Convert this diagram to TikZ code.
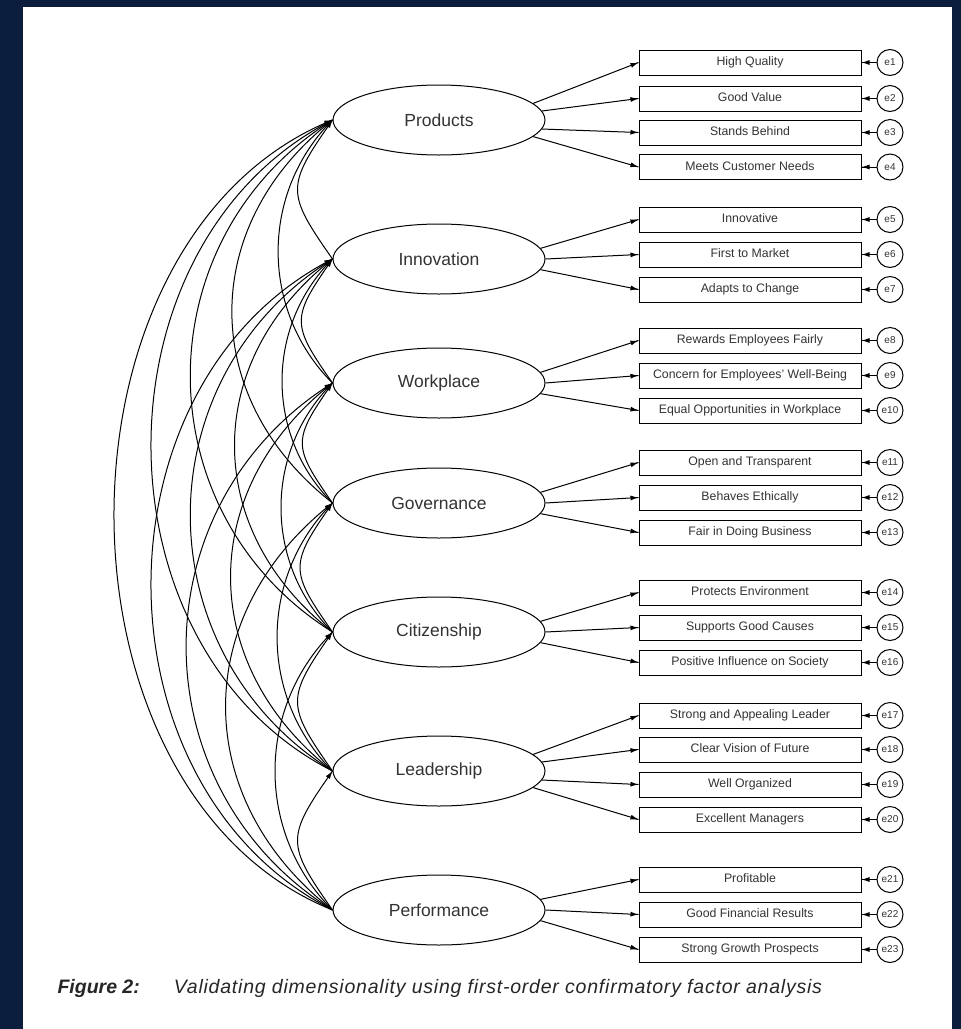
\documentclass[tikz,border=0pt]{standalone}
\usepackage{fontspec}
\setmainfont{Liberation Sans}
\newfontfamily\capfont[LetterSpace=4]{Liberation Sans}
\usetikzlibrary{arrows.meta,positioning,shapes.geometric,
                 decorations.markings}
\definecolor{navy}{RGB}{12,30,62}
\tikzset{->/.style = {decoration={markings, mark=at position 1 with {\arrow{Latex[length=8pt,width=5pt]}}}, postaction={decorate}}}
\tikzset{<->/.style = {decoration={markings, mark=at position 0 with {\arrowreversed{Latex[length=8pt,width=5pt]}}, mark=at position 1 with {\arrow{Latex[length=8pt,width=5pt]}}}, postaction={decorate}}}
\tikzset{factor/.style = {draw, ellipse, minimum width=212pt, minimum height=70pt, inner sep=0pt, text=black!80, font=\fontsize{17.5}{20}\selectfont},
         item/.style = {draw, rectangle, minimum width=222pt, minimum height=25pt, inner sep=0pt, text height=9pt, text depth=2.5pt, text=black!80, font=\fontsize{12.3}{14}\selectfont},
         err/.style = {draw, circle, minimum size=26pt, inner sep=0pt, text=black!80, font=\fontsize{10}{12}\selectfont},
         cov1/.style = {out=235, in=125, looseness=1.5},
         cov2/.style = {out=225, in=135, looseness=1.0},
         cov3/.style = {out=218, in=142, looseness=1.14},
         cov4/.style = {out=212, in=148, looseness=1.12},
         cov5/.style = {out=207, in=153, looseness=1.07},
         cov6/.style = {out=202, in=158, looseness=1.02}}

\begin{document}
\begin{tikzpicture}[x=1pt, y=1pt, line width=1pt]
\useasboundingbox (0,0) rectangle (961,-1029);
\fill[navy] (0,0) rectangle (961,-1029);
\fill[white] (23,-7) rectangle (952,-1029);
% latent factors
\node[factor] (prod)  at (439,-120) {Products};
\node[factor] (innov) at (439,-259) {Innovation};
\node[factor] (work)  at (439,-383) {Workplace};
\node[factor] (gov)   at (439,-503) {Governance};
\node[factor] (cit)   at (439,-632) {Citizenship};
\node[factor] (lead)  at (439,-771) {Leadership};
\node[factor] (perf)  at (439,-910) {Performance};
% observed items
\node[item] (i1)  at (750,-62.5)  {High Quality};
\node[item] (i2)  at (750,-98.5)  {Good Value};
\node[item] (i3)  at (750,-132.5) {Stands Behind};
\node[item] (i4)  at (750,-167)   {Meets Customer Needs};
\node[item] (i5)  at (750,-219.5) {Innovative};
\node[item] (i6)  at (750,-254.5) {First to Market};
\node[item] (i7)  at (750,-289.5) {Adapts to Change};
\node[item] (i8)  at (750,-340.5) {Rewards Employees Fairly};
\node[item] (i9)  at (750,-375.5) {Concern for Employees' Well-Being};
\node[item] (i10) at (750,-410.5) {Equal Opportunities in Workplace};
\node[item] (i11) at (750,-462.5) {Open and Transparent};
\node[item] (i12) at (750,-497.5) {Behaves Ethically};
\node[item] (i13) at (750,-532.5) {Fair in Doing Business};
\node[item] (i14) at (750,-592.5) {Protects Environment};
\node[item] (i15) at (750,-627.5) {Supports Good Causes};
\node[item] (i16) at (750,-662.5) {Positive Influence on Society};
\node[item] (i17) at (750,-715.5) {Strong and Appealing Leader};
\node[item] (i18) at (750,-749.5) {Clear Vision of Future};
\node[item] (i19) at (750,-784.5) {Well Organized};
\node[item] (i20) at (750,-819.5) {Excellent Managers};
\node[item] (i21) at (750,-879.5) {Profitable};
\node[item] (i22) at (750,-914.5) {Good Financial Results};
\node[item] (i23) at (750,-949.5) {Strong Growth Prospects};
% error terms
\foreach \n in {1,...,23} {
  \node[err, right=15pt of i\n] (e\n) {e\n};
  \draw[->] (e\n) -- (i\n);
}
% loadings
\draw[->] (prod.10) -- (i1.west);
\draw[->] (prod.5) -- (i2.west);
\draw[->] (prod.-5) -- (i3.west);
\draw[->] (prod.-10) -- (i4.west);
\draw[->] (innov.6) -- (i5.west);
\draw[->] (innov.0) -- (i6.west);
\draw[->] (innov.-6) -- (i7.west);
\draw[->] (work.6) -- (i8.west);
\draw[->] (work.0) -- (i9.west);
\draw[->] (work.-6) -- (i10.west);
\draw[->] (gov.6) -- (i11.west);
\draw[->] (gov.0) -- (i12.west);
\draw[->] (gov.-6) -- (i13.west);
\draw[->] (cit.6) -- (i14.west);
\draw[->] (cit.0) -- (i15.west);
\draw[->] (cit.-6) -- (i16.west);
\draw[->] (lead.10) -- (i17.west);
\draw[->] (lead.5) -- (i18.west);
\draw[->] (lead.-5) -- (i19.west);
\draw[->] (lead.-10) -- (i20.west);
\draw[->] (perf.6) -- (i21.west);
\draw[->] (perf.0) -- (i22.west);
\draw[->] (perf.-6) -- (i23.west);
% covariances
\draw[<->, cov1] (prod.west) to (innov.west);
\draw[<->, cov1] (innov.west) to (work.west);
\draw[<->, cov1] (work.west) to (gov.west);
\draw[<->, cov1] (gov.west) to (cit.west);
\draw[<->, cov1] (cit.west) to (lead.west);
\draw[<->, cov1] (lead.west) to (perf.west);
\draw[<->, cov2] (prod.west) to (work.west);
\draw[<->, cov2] (innov.west) to (gov.west);
\draw[<->, cov2] (work.west) to (cit.west);
\draw[<->, cov2] (gov.west) to (lead.west);
\draw[<->, cov2] (cit.west) to (perf.west);
\draw[<->, cov3] (prod.west) to (gov.west);
\draw[<->, cov3] (innov.west) to (cit.west);
\draw[<->, cov3] (work.west) to (lead.west);
\draw[<->, cov3] (gov.west) to (perf.west);
\draw[<->, cov4] (prod.west) to (cit.west);
\draw[<->, cov4] (innov.west) to (lead.west);
\draw[<->, cov4] (work.west) to (perf.west);
\draw[<->, cov5] (prod.west) to (lead.west);
\draw[<->, cov5] (innov.west) to (perf.west);
\draw[<->, cov6] (prod.west) to (perf.west);
% caption
\node[anchor=west, inner sep=0pt, text=black!85, font=\fontsize{19.5}{22}\selectfont\bfseries\itshape] (figlab) at (57,-988) {Figure 2:};
\node[right=33pt of figlab, inner sep=0pt, text=black!85, font=\capfont\fontsize{19.5}{22}\selectfont\itshape] (figtext) {Validating dimensionality using first-order confirmatory factor analysis};
\end{tikzpicture}
\end{document}
